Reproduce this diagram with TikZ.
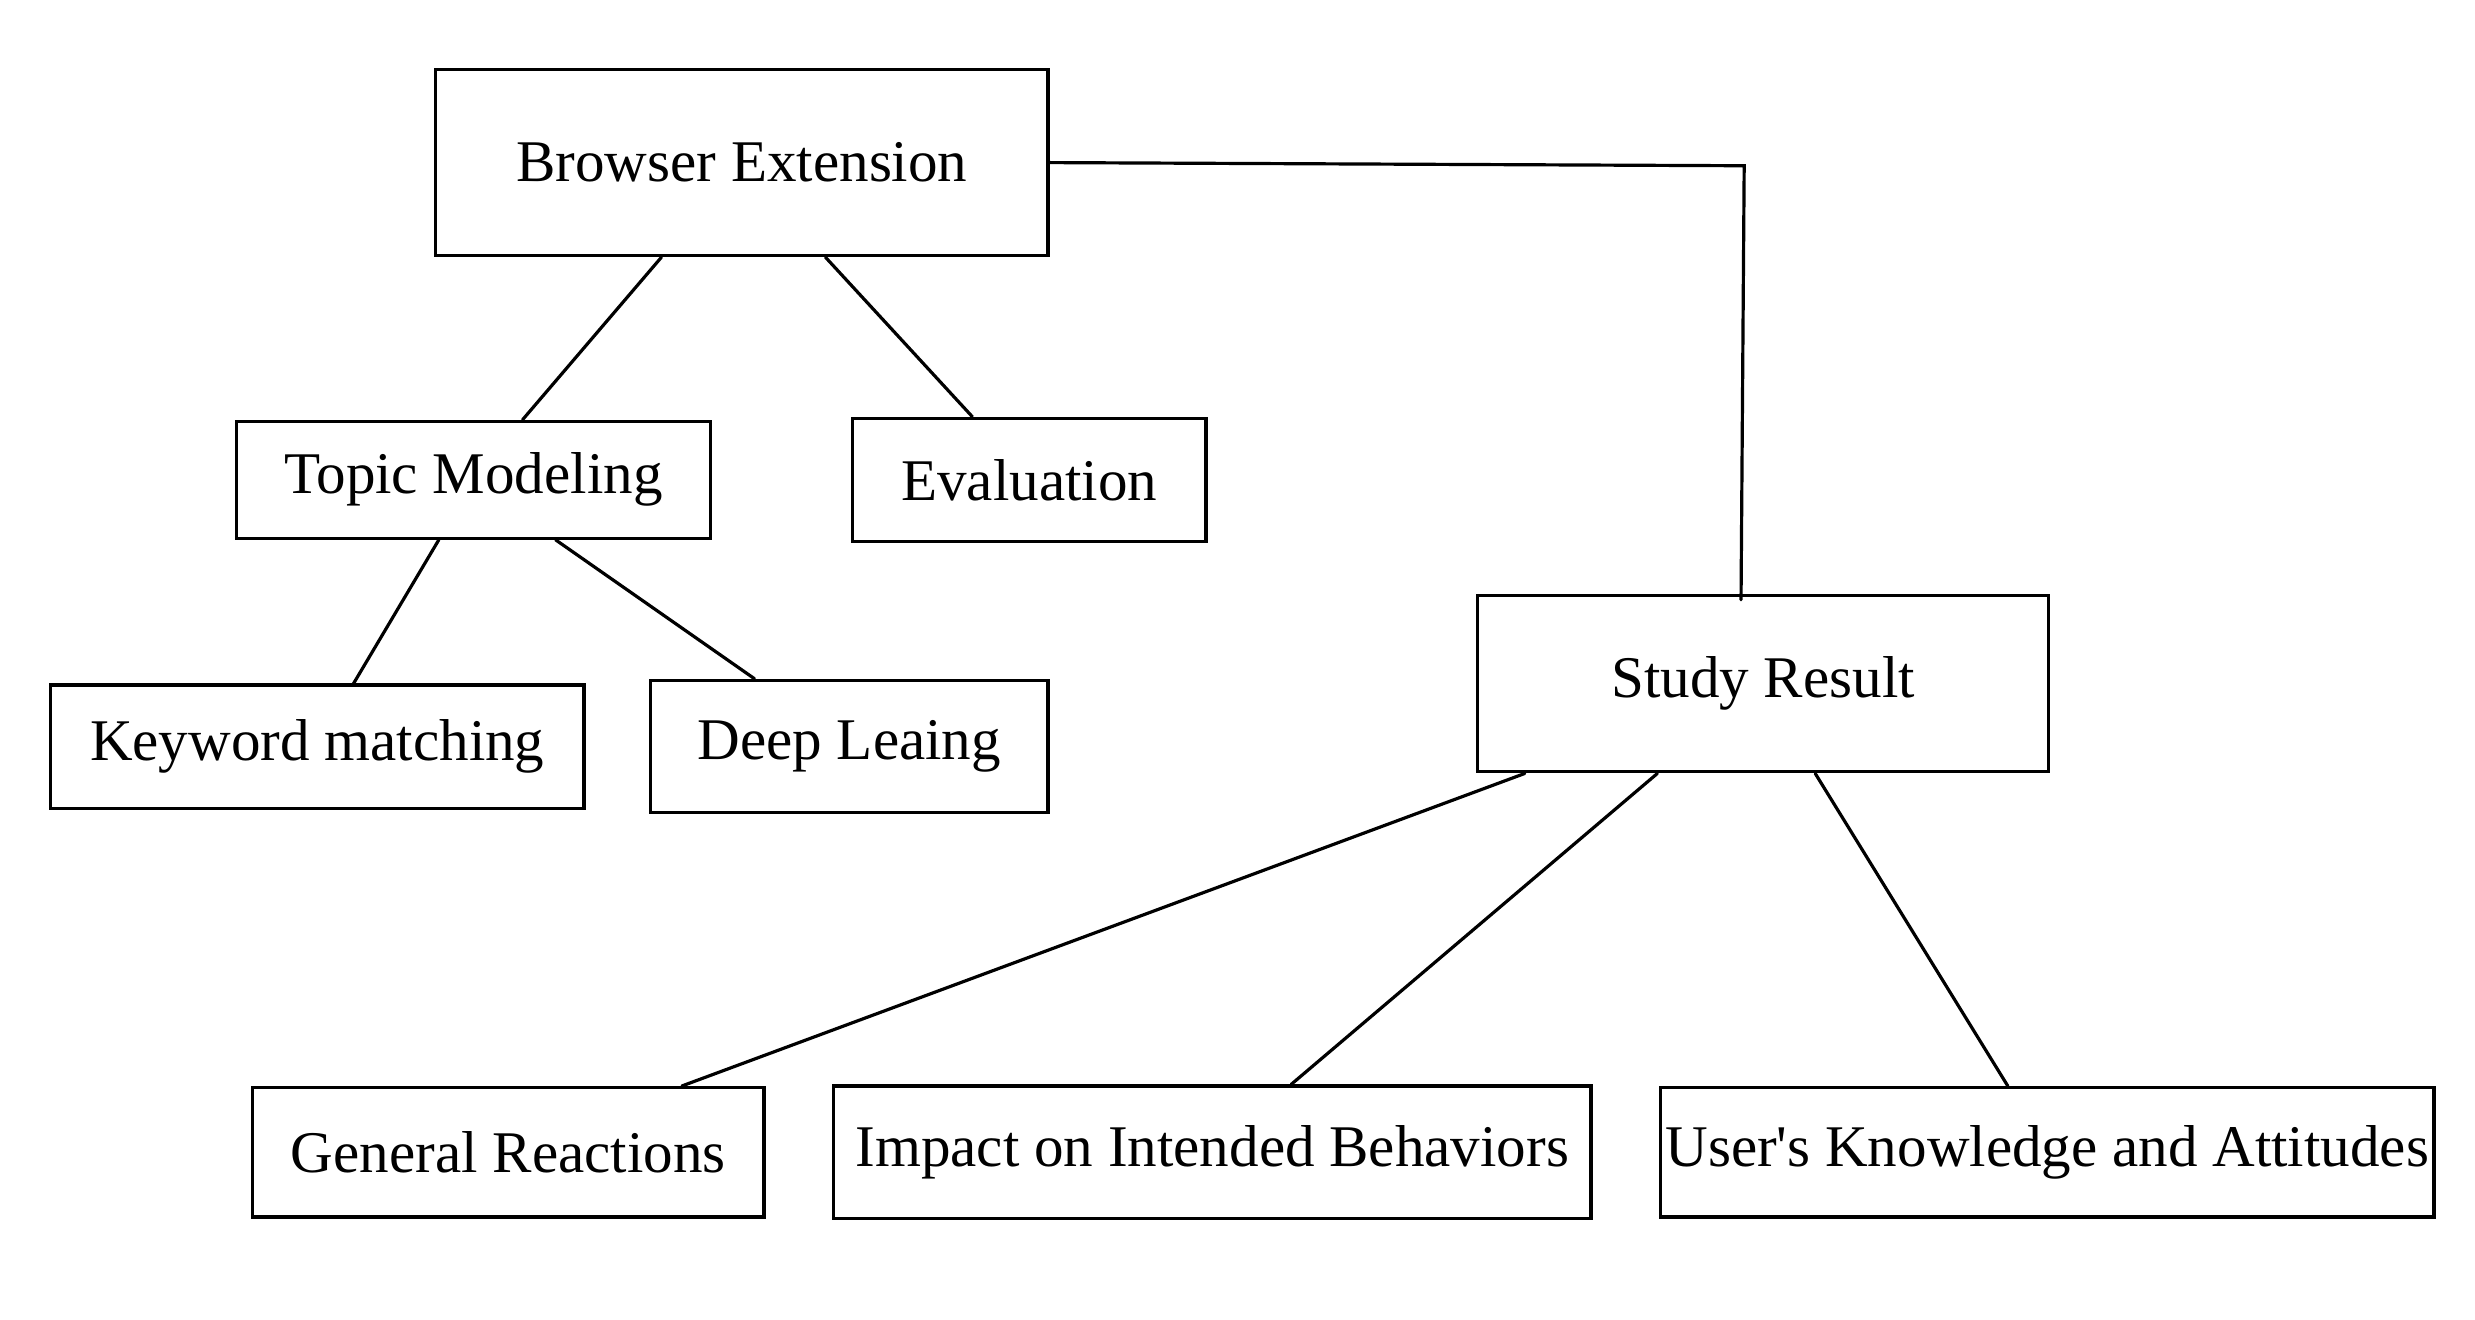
\documentclass[tikz,border=0pt]{standalone}
\usepackage{fontspec}
\setmainfont{Liberation Serif}
\usetikzlibrary{calc}
\tikzset{
    tree/.style={line cap=round, line join=miter,
                 font=\fontsize{21.3}{25}\selectfont},
    treebox/.style={draw=black, line width=1.15pt, fill=white, inner sep=0pt,
                    align=center},
    branch/.style={draw=black, line width=1.15pt},
}

\begin{document}
\begin{tikzpicture}[tree, x=0.02cm, y=-0.02cm]
\useasboundingbox (0,0) rectangle (1568,836);

% ─── Extension ──────────────────────────────────────────────────────────
\node[treebox, minimum width=7.76cm, minimum height=2.36cm] (ext) at (470,103)
    {Browser Extension};
\node[treebox, minimum width=6cm, minimum height=1.48cm] (topic) at (300,304)
    {Topic Modeling};
\node[treebox, minimum width=4.48cm, minimum height=1.56cm] (eval) at (652,304)
    {Evaluation};
\node[treebox, minimum width=6.76cm, minimum height=1.56cm] (keyword) at (201,473)
    {Keyword matching};
\node[treebox, minimum width=5.04cm, minimum height=1.68cm] (deep) at (538,473)
    {Deep Leaing};

% ─── Résultats ──────────────────────────────────────────────────────────
\node[treebox, minimum width=7.24cm, minimum height=2.24cm] (result) at (1117,433)
    {Study Result};
\node[treebox, minimum width=6.48cm, minimum height=1.64cm] (general) at (322,730)
    {General Reactions};
\node[treebox, minimum width=9.6cm, minimum height=1.68cm] (impact) at (768,730)
    {Impact on Intended Behaviors};
\node[treebox, minimum width=9.8cm, minimum height=1.64cm] (knowledge) at (1297,730)
    {User\textquotesingle s Knowledge and Attitudes};

% ─── Liens ──────────────────────────────────────────────────────────────
\coordinate (corner) at (1105,105);
\draw[branch] ($(ext.south)+(-51,0)$) -- ($(topic.north)+(31,0)$);
\draw[branch] ($(ext.south)+(53,0)$) -- ($(eval.north)+(-36,0)$);
\draw[branch] ($(topic.south)+(-22,0)$) -- ($(keyword.north)+(23,0)$);
\draw[branch] ($(topic.south)+(52,0)$) -- ($(deep.north)+(-60,0)$);
\draw[branch] (ext.east) -- (corner) -- ($(corner |- result.north)+(-2,4)$);
\draw[branch] ($(result.south)+(-151,0)$) -- ($(general.north)+(110,0)$);
\draw[branch] ($(result.south)+(-67,0)$) -- ($(impact.north)+(50,0)$);
\draw[branch] ($(result.south)+(33,0)$) -- ($(knowledge.north)+(-25,0)$);

\end{tikzpicture}
\end{document}
